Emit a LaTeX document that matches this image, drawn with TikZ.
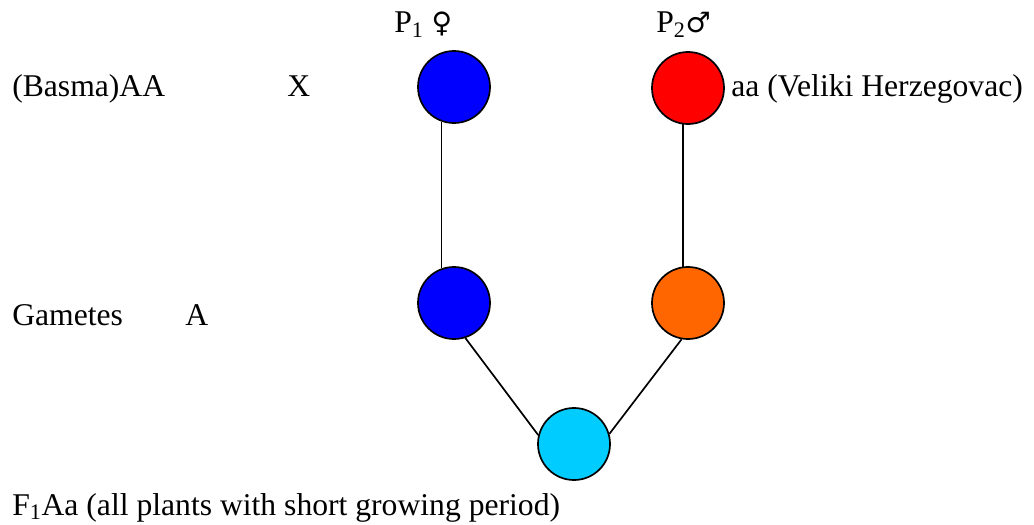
\documentclass[tikz,border=0pt]{standalone}
\usepackage{fontspec}
\setmainfont{Liberation Serif}
\newfontfamily\signfont{DejaVu Sans}
\definecolor{femfill}{HTML}{0000FF}
\definecolor{malefill}{HTML}{FF0000}
\definecolor{gamfill}{HTML}{FF6600}
\definecolor{hybfill}{HTML}{00CCFF}
\newcommand{\bigtext}{\fontsize{22.5}{26}\selectfont}
\tikzset{
 every node/.append style={font=\bigtext},
 plant/.style={circle,draw=black,line width=1.2pt,minimum size=1.8cm,inner sep=0pt},
 word/.style={anchor=base west,inner sep=0pt},
 link/.style={draw=black,line width=1.2pt},
}

\begin{document}
\begin{tikzpicture}[x=0.025cm,y=-0.025cm]
\useasboundingbox (0,0) rectangle (1034,525);

% parents
\node[plant,fill=femfill] (pone) at (454,87) {};
\node[plant,fill=malefill] (ptwo) at (688,88) {};
\node[word] (pfem) at (394,33) {P\textsubscript{1} {\signfont\fontsize{20}{24}\selectfont ♀}};
\node[word] (pmale) at (656,33) {P\textsubscript{2}{\signfont\fontsize{20}{24}\selectfont ♂}};
\node[word] (basma) at (12,97) {(Basma)AA};
\node[word] (cross) at (287,97) {X};
\node[word] (veliki) at (731,97) {aa (Veliki Herzegovac)};

% gametes
\node[plant,fill=femfill] (gone) at (454,303) {};
\node[plant,fill=gamfill] (gtwo) at (688,303) {};
\node[word] (gametes) at (12,326) {Gametes};
\node[word] (gamA) at (185,326) {A};

% hybrid
\node[plant,fill=hybfill] (fone) at (574,444) {};
\node[word] (hybrid) at (12,515) {F\textsubscript{1}Aa (all plants with short growing period)};

\draw[link] (pone.250) -- (gone.110);
\draw[link] (ptwo.262) -- (gtwo.98);
\draw[link] (gone.288) -- (fone.166);
\draw[link] (gtwo.260) -- (fone.16);
\end{tikzpicture}
\end{document}
